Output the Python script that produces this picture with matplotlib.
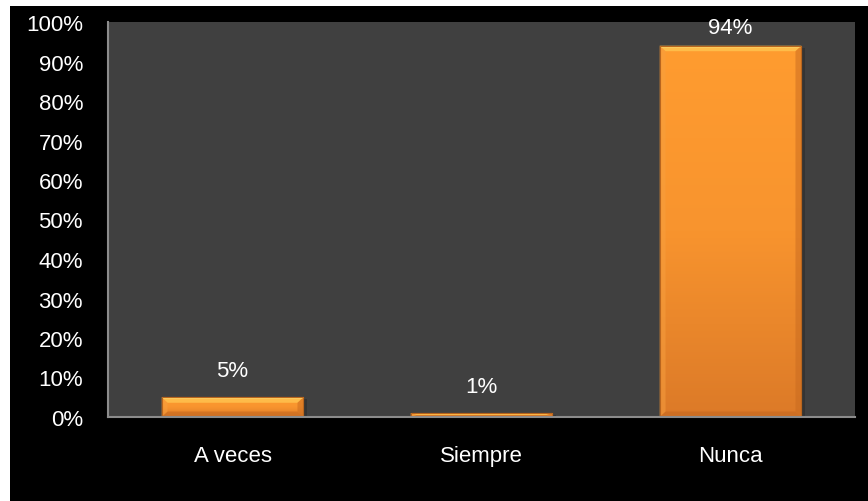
import numpy as np
import matplotlib.pyplot as plt
from matplotlib.patches import Rectangle, Polygon
from matplotlib.colors import LinearSegmentedColormap
from matplotlib.ticker import FuncFormatter

categories = ["A veces", "Siempre", "Nunca"]
values = [5, 1, 94]
labels = ["5%", "1%", "94%"]

plt.rcParams['font.family'] = ['Liberation Sans Narrow', 'Liberation Sans', 'DejaVu Sans']

fig = plt.figure(figsize=(8.68, 5.02), dpi=100, facecolor="white")
# black chart area with a thin white strip along top and left
fig.patches.append(Rectangle((10 / 868, 0), 1, 1 - 7 / 502, transform=fig.transFigure,
                             facecolor="black", edgecolor="none", zorder=-10))

ax = fig.add_axes([108 / 868, 84 / 502, 747 / 868, 395 / 502])
ax.set_facecolor("#404040")

x = np.arange(len(categories))
width = 0.57
bars = ax.bar(x, values, width=width, color="#F08A2C", edgecolor="#B8651E",
              linewidth=0.8, zorder=2)

# vertical gradient on each bar, light on top, darker at the base
cmap = LinearSegmentedColormap.from_list("orange", ["#FF9C30", "#F8942E", "#DC7A28"])
grad = np.linspace(0, 1, 256).reshape(-1, 1)
px_x = 1 / 249.0   # one pixel in x data units
px_y = 100 / 395.0 # one pixel in y data units
for b in bars:
    x0, w, h = b.get_x(), b.get_width(), b.get_height()
    # soft shadow on the right
    ax.add_patch(Rectangle((x0 + w, 0), 4 * px_x, h - 2 * px_y, facecolor="black",
                           edgecolor="none", alpha=0.18, zorder=1))
    im = ax.imshow(grad, cmap=cmap, aspect="auto", extent=(x0, x0 + w, 0, h),
                   zorder=3, interpolation="bicubic")
    im.set_clip_path(b)
    # bevel edges
    bx = 6 * px_x
    by = min(5.5 * px_y, h / 2)
    x1 = x0 + w
    top = Polygon([(x0, h), (x1, h), (x1 - bx, h - by), (x0 + bx, h - by)],
                  facecolor="#FFC24E", edgecolor="none", alpha=0.85, zorder=4)
    ax.add_patch(top)
    ax.add_patch(Rectangle((x0, h - by * 0.35), w, by * 0.35, facecolor="#FFDD70",
                           edgecolor="none", alpha=0.6, zorder=4))
    bot = Polygon([(x0, 0), (x1, 0), (x1 - bx, by), (x0 + bx, by)],
                  facecolor="#C4671F", edgecolor="none", alpha=0.55, zorder=4)
    ax.add_patch(bot)
    left = Polygon([(x0, 0), (x0 + bx, by), (x0 + bx, h - by), (x0, h)],
                   facecolor="#F7A040", edgecolor="none", alpha=0.5, zorder=4)
    ax.add_patch(left)
    right = Polygon([(x1, 0), (x1 - bx, by), (x1 - bx, h - by), (x1, h)],
                    facecolor="#C86A20", edgecolor="none", alpha=0.5, zorder=4)
    ax.add_patch(right)
    ax.add_patch(Rectangle((x0, 0), w, h, facecolor="none", edgecolor="#B8651E",
                           linewidth=0.8, zorder=5))

for xi, v, lab in zip(x, values, labels):
    ax.text(xi, min(v + 4.0, 96.0), lab, ha="center", va="bottom", color="white",
            fontsize=16)

ax.set_xlim(-0.5, len(categories) - 0.5)
ax.set_ylim(0, 100)
ax.set_yticks(np.arange(0, 101, 10))
ax.yaxis.set_major_formatter(FuncFormatter(lambda v, p: f"{int(v)}%"))
ax.set_xticks(x)
ax.set_xticklabels(categories)
ax.tick_params(axis="both", colors="white", labelsize=16, length=0)
ax.tick_params(axis="x", pad=20)
ax.tick_params(axis="y", pad=18)

for s in ["top", "right"]:
    ax.spines[s].set_visible(False)
for s in ["left", "bottom"]:
    ax.spines[s].set_color("#8C8C8C")
    ax.spines[s].set_linewidth(1.5)
    ax.spines[s].set_zorder(6)

fig.savefig("out.png", dpi=100, facecolor=fig.get_facecolor())
